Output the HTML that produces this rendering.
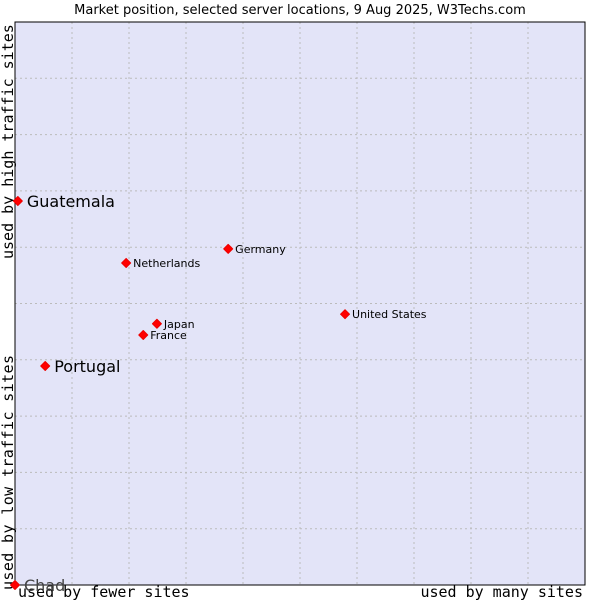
<!DOCTYPE html>
<html><head><meta charset="utf-8"><style>
body{margin:0;background:#fff;}
svg{display:block;font-family:"DejaVu Sans","Liberation Sans",sans-serif;}
.mono{font-family:"DejaVu Sans Mono","Liberation Mono",monospace;}
</style></head><body>
<svg id="chart" width="600" height="600">
<text x="300" y="14" text-anchor="middle" font-size="13" fill="#000">Market position, selected server locations, 9 Aug 2025, W3Techs.com</text>
<rect x="15" y="22" width="570" height="563" fill="#e3e4f8" stroke="none"/>
<g id="grid"></g>
<rect x="15" y="22" width="570" height="563" fill="none" stroke="#000" stroke-width="1"/>
<text class="mono" transform="translate(13,259) rotate(-90)" font-size="15">used by high traffic sites</text>
<text class="mono" transform="translate(13,590) rotate(-90)" font-size="15" textLength="235" lengthAdjust="spacing">used by low traffic sites</text>
<text class="mono" x="18" y="597" font-size="15">used by fewer sites</text>
<text class="mono" x="583" y="597" text-anchor="end" font-size="15">used by many sites</text>
<g id="points"></g>
</svg>
<script>
const names=["Guatemala","Portugal","Chad","Netherlands","Germany","Japan","France","United States"];
const xVals=[0.5,5.3,0,19.5,37.4,24.9,22.5,57.9];
const yVals=[68.2,38.9,0,57.2,59.7,46.4,44.4,48.1];
const big=[true,true,true,false,false,false,false,false];
const X0=15,W=570,Y0=585,H=563;
const sx=v=>X0+v/100*W, sy=v=>Y0-v/100*H;
const NS="http://www.w3.org/2000/svg";
const grid=document.getElementById('grid');
for(let i=1;i<10;i++){
 const v=document.createElementNS(NS,'line');
 v.setAttribute('x1',sx(i*10));v.setAttribute('x2',sx(i*10));v.setAttribute('y1',22);v.setAttribute('y2',585);
 v.setAttribute('stroke','#bbb');v.setAttribute('stroke-dasharray','2,3');
 
 
 grid.appendChild(v);
 const h=document.createElementNS(NS,'line');
 h.setAttribute('y1',sy(i*10));h.setAttribute('y2',sy(i*10));h.setAttribute('x1',15);h.setAttribute('x2',585);
 h.setAttribute('stroke','#bbb');h.setAttribute('stroke-dasharray','2,3');
 
 
 grid.appendChild(h);
}
const pts=document.getElementById('points');
names.forEach((n,i)=>{
 const x=sx(xVals[i]),y=sy(yVals[i]);
 const c=document.createElementNS(NS,'path');
 c.setAttribute('d',`M${x-4.5},${y} L${x},${y-4.5} L${x+4.5},${y} L${x},${y+4.5} Z`);
 c.setAttribute('fill','#f00');c.setAttribute('stroke','#e00');c.setAttribute('stroke-width','1');c.setAttribute('stroke-linejoin','round');
 
 
 pts.appendChild(c);
 const t=document.createElementNS(NS,'text');
 t.setAttribute('x',x+(big[i]?9:7));t.setAttribute('y',y+(big[i]?6:4));
 t.setAttribute('font-size',big[i]?16:11);
 t.setAttribute('fill',n==="Chad"?'#444':'#000');
 t.textContent=n;
 
 
 pts.appendChild(t);
});
</script>
</body></html>
